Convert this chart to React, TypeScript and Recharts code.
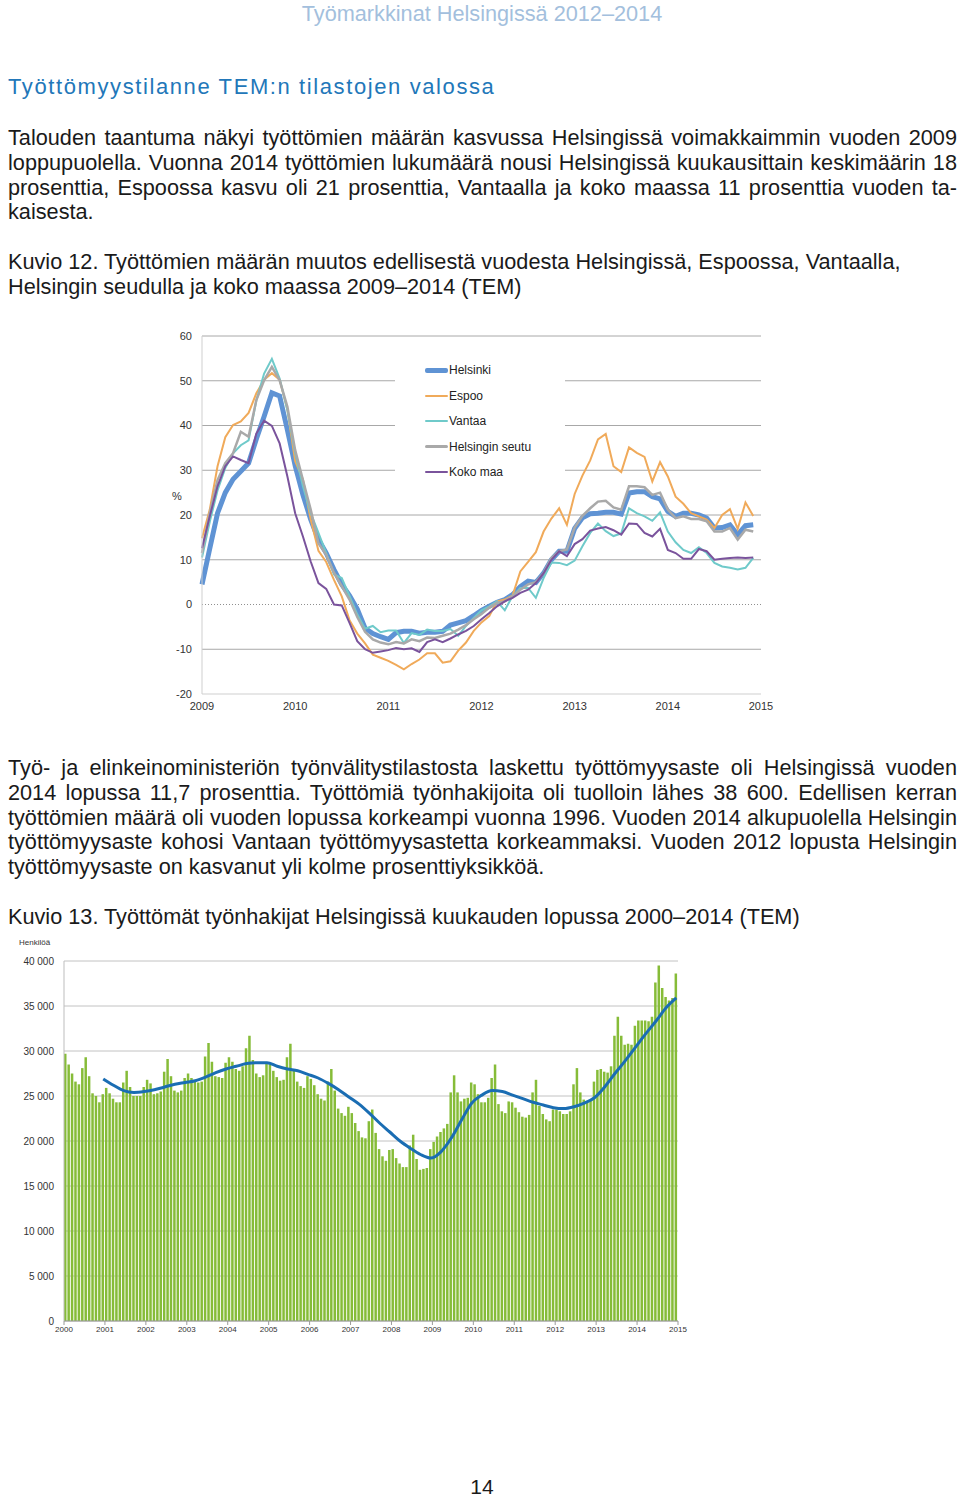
import React from 'react'
import {
  LineChart,
  Line,
  XAxis,
  YAxis,
  CartesianGrid,
  ReferenceLine,
  Legend,
  ComposedChart,
  Bar,
} from 'recharts'

const FONT = '"Liberation Sans", Arial, Helvetica, sans-serif'

// ---- Kuvio 12: change from previous year, %, monthly 2009-2014 ----
const years1 = ['2009', '2010', '2011', '2012', '2013', '2014', '2015']
const pctTicks = [-20, -10, 0, 10, 20, 30, 40, 50, 60]

const helsinki = [4.5, 12.5, 20.4, 25, 28, 29.8, 31.6, 37, 42, 47.3, 46.6, 39, 31, 24.5, 19, 14.5, 11.5, 7.8, 4.5, 2, -1, -5.3, -6.5, -7.2, -7.8, -6.3, -6, -6, -6.4, -6.2, -6.2, -6, -4.6, -4.1, -3.6, -2.5, -1.3, -0.4, 0.5, 1.1, 2.2, 4, 5.2, 4.9, 7, 10, 11.9, 11.9, 17, 19.4, 20.3, 20.4, 20.6, 20.6, 20.2, 24.9, 25.2, 25.2, 24.1, 23.6, 20.8, 19.7, 20.4, 20.4, 20, 19.3, 17.1, 17.2, 17.8, 15.6, 17.6, 17.8]
const espoo = [14.8, 21.2, 30.9, 37.4, 40.1, 40.9, 42.8, 47.2, 50.2, 51.7, 50.2, 43.5, 32, 28, 19, 12, 9.5, 5.5, 1.8, -3.5, -6.5, -8.7, -11.2, -11.9, -12.6, -13.5, -14.5, -13.3, -12.3, -10.9, -10.9, -13, -12.7, -10.3, -8.5, -5.9, -4, -2.6, 0.7, 1.1, 2, 7.4, 9.5, 11.7, 16.3, 19.2, 21.5, 17.8, 24.7, 28.8, 32.2, 36.9, 38.1, 30.9, 29.6, 35.1, 33.9, 33, 27.5, 31.8, 28.6, 24.1, 22.5, 20.4, 19.7, 19, 17.1, 20, 21.3, 16.9, 22.8, 19.8]
const vantaa = [10.5, 18.5, 25.5, 30.5, 33.8, 35.6, 36.7, 45.6, 51.6, 54.9, 50.5, 43.4, 33.8, 26.4, 20.4, 16, 11.5, 6.7, 5.9, 1.9, -2.2, -5.4, -4.8, -6.2, -5.8, -5.8, -8.6, -6.4, -6.8, -5.6, -5.9, -5.9, -5.5, -7, -4.8, -3, -1.3, -0.4, 0.7, -1.3, 1.9, 3.7, 3.7, 1.5, 5.9, 9.4, 9.3, 8.8, 9.8, 13, 16, 18.1, 16.4, 15.3, 15.9, 21.5, 20.4, 19.7, 18.7, 20.6, 16.3, 13.9, 12.2, 11.5, 12.8, 11.5, 9.3, 8.5, 8.2, 7.8, 8.2, 10.4]
const seutu = [11.5, 20.4, 27.8, 31.6, 33.8, 38.6, 37.5, 45.7, 50.1, 53.1, 50.1, 44.2, 34.5, 27.8, 21.2, 13.7, 11.1, 7.1, 4.1, 1.1, -2.8, -6.1, -7.8, -8.5, -8.9, -8.4, -8.7, -7.8, -8.2, -7.4, -7.5, -7, -6.5, -5.6, -4.6, -3.3, -2.1, -0.7, 0.4, 0.7, 1.9, 3.3, 4.5, 5, 7, 10.4, 11.9, 12.3, 17.2, 19.8, 21.5, 23, 23.2, 21.7, 21.2, 26.4, 26.4, 26.2, 24.5, 25, 21.2, 19.3, 19.7, 19.1, 19.1, 18.6, 16.3, 16.3, 17.1, 14.5, 16.7, 16.3]
const kokoMaa = [12.6, 19.7, 26.4, 30.9, 33.1, 32.3, 31.6, 38.2, 41.1, 39.9, 36, 28.6, 20.4, 15.2, 9.6, 4.8, 3.5, 0, -0.2, -4.1, -8.2, -10, -10.8, -10.5, -10.2, -9.7, -10, -9.8, -10.6, -8.4, -7.8, -8.4, -7.6, -6.7, -5.9, -4.8, -3.3, -1.9, -0.4, 0.7, 1.5, 2.6, 3.3, 4.8, 7, 10, 11.9, 10.8, 13.5, 14.6, 16.5, 17, 17.3, 16.6, 15.6, 18.1, 18, 16, 15.2, 16.9, 12.2, 11.5, 10.2, 10.2, 12.4, 11.9, 10, 10.2, 10.4, 10.5, 10.4, 10.5]

const seriesNames = ['Helsinki', 'Espoo', 'Vantaa', 'Helsingin seutu', 'Koko maa']
const seriesKeys = ['helsinki', 'espoo', 'vantaa', 'seutu', 'koko']
const seriesColors = ['#5f93d4', '#f0aa5a', '#6fcaca', '#a9a9a9', '#7a539c']
const seriesWidths = [5, 2, 2, 2.5, 2]

// ---- Kuvio 13: unemployed job seekers, monthly 2000-2014 ----
const years2 = ['2000', '2001', '2002', '2003', '2004', '2005', '2006', '2007', '2008', '2009', '2010', '2011', '2012', '2013', '2014', '2015']
const countTicks = [0, 5000, 10000, 15000, 20000, 25000, 30000, 35000, 40000]

const y2000 = [29700, 28500, 27500, 26600, 26300, 28100, 29300, 27200, 25300, 25000, 24300, 25200]
const y2001 = [25900, 25300, 24700, 24300, 24300, 26500, 27800, 26000, 25000, 25000, 25000, 26000]
const y2002 = [26800, 26400, 25200, 25300, 25500, 27700, 29100, 27200, 25600, 25400, 25600, 27000]
const y2003 = [27500, 27000, 26700, 26500, 26600, 29400, 30900, 28800, 27200, 27100, 27000, 28700]
const y2004 = [29300, 28800, 28000, 27800, 28300, 30300, 31700, 29000, 27500, 27100, 27300, 28700]
const y2005 = [28500, 27800, 27100, 26700, 26800, 29300, 30800, 28000, 26600, 26100, 25900, 27200]
const y2006 = [26900, 26200, 25200, 24700, 24500, 26600, 28000, 25600, 23600, 23100, 22800, 23800]
const y2007 = [23100, 22000, 21100, 20400, 20300, 22200, 23500, 20900, 19100, 18300, 17800, 19000]
const y2008 = [19100, 18100, 17500, 17100, 17100, 19500, 20700, 18000, 16800, 16900, 17000, 19100]
const y2009 = [19900, 20500, 21000, 21400, 21900, 25400, 27300, 25400, 24400, 24700, 24800, 26500]
const y2010 = [26300, 25200, 24300, 24300, 24800, 27000, 28500, 24100, 23300, 23100, 24400, 24300]
const y2011 = [23700, 23200, 22700, 22600, 22900, 25400, 26800, 23900, 23000, 22400, 22200, 23500]
const y2012 = [23500, 23300, 23000, 23000, 23300, 26300, 28100, 25400, 24600, 24400, 24600, 26600]
const y2013 = [27900, 28000, 27700, 27600, 28300, 31700, 33800, 31700, 30700, 30800, 30700, 32800]
const y2014 = [33400, 33400, 33400, 33300, 33800, 37600, 39500, 37000, 36000, 35600, 35900, 38600]

// trend every third month (month index from Jan 2000)
const trendMonths = [11, 14, 17, 20, 23, 26, 29, 32, 35, 38, 41, 44, 47, 50, 53, 56, 59, 62, 65, 68, 71, 74, 77, 80, 83, 86, 89, 92, 95, 98, 101, 104, 107, 110, 113, 116, 119, 122, 125, 128, 131, 134, 137, 140, 143, 146, 149, 152, 155, 158, 161, 164, 167, 170, 173, 176, 179]
const trendValues = [26900, 26200, 25600, 25400, 25500, 25700, 26000, 26300, 26500, 26700, 27100, 27600, 28000, 28300, 28600, 28700, 28700, 28300, 28000, 27800, 27400, 27000, 26400, 25700, 24900, 24100, 23100, 22000, 21000, 20000, 19200, 18500, 18100, 18800, 20300, 22300, 24200, 25100, 25600, 25500, 25100, 24700, 24300, 24000, 23700, 23600, 23800, 24200, 24800, 26000, 27500, 28900, 30400, 31900, 33300, 34800, 35900]

const para1 = [
  'Talouden taantuma näkyi työttömien määrän kasvussa Helsingissä voimakkaimmin vuoden 2009',
  'loppupuolella. Vuonna 2014 työttömien lukumäärä nousi Helsingissä kuukausittain keskimäärin 18',
  'prosenttia, Espoossa kasvu oli 21 prosenttia, Vantaalla ja koko maassa 11 prosenttia vuoden ta-',
  'kaisesta.',
]
const caption1 = [
  'Kuvio 12. Työttömien määrän muutos edellisestä vuodesta Helsingissä, Espoossa, Vantaalla,',
  'Helsingin seudulla ja koko maassa 2009–2014 (TEM)',
]
const para2 = [
  'Työ- ja elinkeinoministeriön työnvälitystilastosta laskettu työttömyysaste oli Helsingissä vuoden',
  '2014 lopussa 11,7 prosenttia. Työttömiä työnhakijoita oli tuolloin lähes 38 600. Edellisen kerran',
  'työttömien määrä oli vuoden lopussa korkeampi vuonna 1996. Vuoden 2014 alkupuolella Helsingin',
  'työttömyysaste kohosi Vantaan työttömyysastetta korkeammaksi. Vuoden 2012 lopusta Helsingin',
  'työttömyysaste on kasvanut yli kolme prosenttiyksikköä.',
]
const caption2 = 'Kuvio 13. Työttömät työnhakijat Helsingissä kuukauden lopussa 2000–2014 (TEM)'

const chart1Data = helsinki.map((v, i) => ({
  m: i,
  helsinki: v,
  espoo: espoo[i],
  vantaa: vantaa[i],
  seutu: seutu[i],
  koko: kokoMaa[i],
}))

const counts = [
  ...y2000, ...y2001, ...y2002, ...y2003, ...y2004, ...y2005, ...y2006, ...y2007,
  ...y2008, ...y2009, ...y2010, ...y2011, ...y2012, ...y2013, ...y2014,
]
const chart2Data = counts.map((c, i) => {
  const t = trendMonths.indexOf(i)
  return { x: i + 0.5, count: c, trend: t >= 0 ? trendValues[t] : null }
})

const fmtThousands = (v: number) =>
  v >= 1000 ? `${Math.floor(v / 1000)} ${String(v % 1000).padStart(3, '0')}` : String(v)

function TextRow({ text, y, justify }: { text: string; y: number; justify: boolean }) {
  return (
    <div
      style={{
        position: 'absolute',
        left: 8,
        width: 949,
        top: y - 13,
        height: 25,
        lineHeight: '25px',
        fontSize: 21.7,
        whiteSpace: 'nowrap',
        textAlign: justify ? 'justify' : 'left',
        textAlignLast: justify ? 'justify' : 'left',
      }}
    >
      {text}
    </div>
  )
}

const renderLegend = () => (
  <div style={{ position: 'relative', width: 170, height: 135, background: '#fff', fontFamily: FONT }}>
    {seriesNames.map((name, i) => (
      <div
        key={name}
        style={{ position: 'absolute', left: 30, top: 12 + i * 25.5, height: 16, display: 'flex', alignItems: 'center' }}
      >
        <div style={{ width: 23, height: seriesWidths[i], background: seriesColors[i], borderRadius: 2 }} />
        <span style={{ fontSize: 12, color: '#222', marginLeft: 1, whiteSpace: 'nowrap' }}>{name}</span>
      </div>
    ))}
  </div>
)

export default function App() {
  return (
    <div
      style={{
        position: 'absolute',
        left: 0,
        top: 0,
        width: 960,
        height: 1499,
        background: '#fff',
        fontFamily: FONT,
        color: '#1a1a1a',
        overflow: 'hidden',
      }}
    >
      <div style={{ position: 'absolute', left: 0, width: 964, top: 1, textAlign: 'center', fontSize: 21.7, lineHeight: '26px', color: '#a3bfdd' }}>
        Työmarkkinat Helsingissä 2012–2014
      </div>
      <div style={{ position: 'absolute', left: 8, top: 74, fontSize: 22, lineHeight: '26px', letterSpacing: 1.6, color: '#2277b9' }}>
        Työttömyystilanne TEM:n tilastojen valossa
      </div>

      {para1.map((t, i) => (
        <TextRow key={t} text={t} y={138 + i * 24.8} justify={i < para1.length - 1} />
      ))}
      {caption1.map((t, i) => (
        <TextRow key={t} text={t} y={262 + i * 25} justify={false} />
      ))}

      {/* Kuvio 12 */}
      <div style={{ position: 'absolute', left: 172, top: 490, fontSize: 11, color: '#333' }}>%</div>
      <div style={{ position: 'absolute', left: 160, top: 320 }}>
        <LineChart width={620} height={400} data={chart1Data} margin={{ top: 16, right: 19, bottom: 0, left: 0 }}>
          <CartesianGrid vertical={false} stroke="#a8a8a8" horizontalValues={[-10, 10, 20, 30, 40, 50, 60]} />
          <XAxis
            dataKey="m"
            type="number"
            domain={[0, 72]}
            ticks={[0, 12, 24, 36, 48, 60, 72]}
            tickFormatter={(v) => years1[v / 12]}
            interval={0}
            height={26}
            axisLine={{ stroke: '#cfcfcf' }}
            tickLine={false}
            tick={{ fontSize: 11, fill: '#333', fontFamily: FONT }}
          />
          <YAxis
            type="number"
            domain={[-20, 60]}
            ticks={pctTicks}
            interval={0}
            width={42}
            axisLine={{ stroke: '#cfcfcf' }}
            tickLine={false}
            tickMargin={4}
            tick={{ fontSize: 11, fill: '#333', fontFamily: FONT }}
          />
          <ReferenceLine y={0} stroke="#8f8f8f" strokeDasharray="1 2" />
          <Legend
            layout="vertical"
            align="center"
            verticalAlign="middle"
            content={renderLegend}
            wrapperStyle={{ left: 235, top: 30, width: 170, height: 135 }}
          />
          {seriesKeys.map((k, i) => (
            <Line
              key={k}
              type="linear"
              dataKey={k}
              name={seriesNames[i]}
              stroke={seriesColors[i]}
              strokeWidth={seriesWidths[i]}
              dot={false}
              isAnimationActive={false}
            />
          ))}
        </LineChart>
      </div>

      {para2.map((t, i) => (
        <TextRow key={t} text={t} y={768 + i * 24.8} justify={i < para2.length - 1} />
      ))}
      <TextRow text={caption2} y={917} justify={false} />

      {/* Kuvio 13 */}
      <div style={{ position: 'absolute', left: 19, top: 938, fontSize: 8, color: '#333' }}>Henkilöä</div>
      <div style={{ position: 'absolute', left: 0, top: 935 }}>
        <ComposedChart width={700} height={410} data={chart2Data} margin={{ top: 26, right: 22, bottom: 0, left: 0 }}>
          <CartesianGrid vertical={false} stroke="#c2c2c2" />
          <XAxis
            dataKey="x"
            type="number"
            domain={[0, 180]}
            ticks={years2.map((_, i) => i * 12)}
            tickFormatter={(v) => years2[v / 12]}
            interval={0}
            height={24}
            axisLine={{ stroke: '#9a9a9a' }}
            tickLine={{ stroke: '#9a9a9a' }}
            tickSize={4}
            tickMargin={1}
            tick={{ fontSize: 8, fill: '#333', fontFamily: FONT }}
          />
          <YAxis
            type="number"
            domain={[0, 40000]}
            ticks={countTicks}
            interval={0}
            width={64}
            tickFormatter={fmtThousands}
            axisLine={{ stroke: '#bdbdbd' }}
            tickLine={false}
            tickMargin={4}
            tick={{ fontSize: 10, fill: '#333', fontFamily: FONT }}
          />
          <Bar dataKey="count" fill="#86bc38" barSize={2.5} isAnimationActive={false} />
          <Line
            type="monotone"
            dataKey="trend"
            stroke="#1a6db3"
            strokeWidth={3}
            dot={false}
            connectNulls
            isAnimationActive={false}
          />
        </ComposedChart>
      </div>

      <div style={{ position: 'absolute', left: 0, width: 964, top: 1474, textAlign: 'center', fontSize: 21, lineHeight: '26px' }}>14</div>
    </div>
  )
}
